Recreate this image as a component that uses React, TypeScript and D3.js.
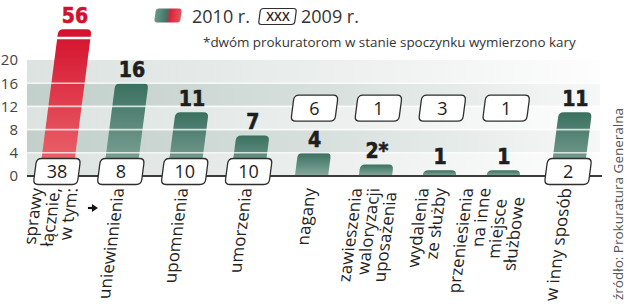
import React from "react";
import * as d3 from "d3";

// ---- data ----
const categoryLines: string[][] = [
  ["sprawy", "łącznie,", "w tym:"],
  ["uniewinnienia"],
  ["upomnienia"],
  ["umorzenia"],
  ["nagany"],
  ["zawieszenia", "waloryzacji", "uposażenia"],
  ["wydalenia", "ze służby"],
  ["przeniesienia", "na inne", "miejsce", "służbowe"],
  ["w inny sposób"],
];
const values2010 = [56, 16, 11, 7, 4, 2, 1, 1, 11];
const labels2010 = ["56", "16", "11", "7", "4", "2*", "1", "1", "11"];
const values2009 = [38, 8, 10, 10, 6, 1, 3, 1, 2];
const yTicks = [0, 4, 8, 12, 16, 20];
const legend2010 = "2010 r.";
const legend2009 = "2009 r.";
const legendBoxText = "XXX";
const footnote = "*dwóm prokuratorom w stanie spoczynku wymierzono kary";
const source = "źródło: Prokuratura Generalna";

// ---- layout (not data) ----
const W = 628;
const H = 307;
const BASE = 176;
const TOP = 60;
const SKEW_DEG = -7.4;
const SK = Math.tan((-SKEW_DEG * Math.PI) / 180);
const AXIS_MAX = 20;
const BREAK_TOP = 25.3; // display height of broken bar (axis units)
const BREAK_AT = 23.8;
const labelDx = [0, 0, 0, 0, 0, 0, -6, -8, 0];
const lineDy: Record<string, number> = { uposażenia: 4, miejsce: 11, służbowe: 9 };

const SANS = "'Open Sans', 'DejaVu Sans', sans-serif";
const NARROW = "'Liberation Sans Narrow', 'DejaVu Sans Condensed', sans-serif";

export default function App() {
  const idx = d3.range(categoryLines.length);
  const x = d3
    .scaleBand<number>()
    .domain(idx)
    .range([24, 599])
    .paddingInner(0.48)
    .paddingOuter(0.24);
  const y = d3.scaleLinear().domain([0, AXIS_MAX]).range([BASE, TOP]);
  const bw = x.bandwidth();
  const skewT = `translate(0,${BASE}) skewX(${SKEW_DEG}) translate(0,${-BASE})`;

  const bands = d3.range(0, AXIS_MAX, 4);
  const grid = yTicks.filter((t) => t > 0 && t < AXIS_MAX);

  const barPath = (x0: number, top: number, w: number, r: number) =>
    `M${x0},${BASE} L${x0},${top + r} Q${x0},${top} ${x0 + r},${top} L${x0 + w - r},${top} Q${x0 + w},${top} ${x0 + w},${top + r} L${x0 + w},${BASE} Z`;

  const roundRect = (w: number, h: number, r: number) =>
    `M${-w / 2 + r},${-h / 2} H${w / 2 - r} Q${w / 2},${-h / 2} ${w / 2},${-h / 2 + r} V${h / 2 - r} Q${w / 2},${h / 2} ${w / 2 - r},${h / 2} H${-w / 2 + r} Q${-w / 2},${h / 2} ${-w / 2},${h / 2 - r} V${-h / 2 + r} Q${-w / 2},${-h / 2} ${-w / 2 + r},${-h / 2} Z`;

  const lineH = 17.5;

  return (
    <svg
      width={W}
      height={H}
      viewBox={`0 0 ${W} ${H}`}
      style={{ position: "absolute", left: 0, top: 0, background: "#fff" }}
    >
      <defs>
        <linearGradient id="bandLight" x1="0" x2="1" y1="0" y2="0">
          <stop offset="0" stopColor="#dce3e0" />
          <stop offset="0.45" stopColor="#e9edec" />
          <stop offset="1" stopColor="#fdfdfd" />
        </linearGradient>
        <linearGradient id="bandDark" x1="0" x2="1" y1="0" y2="0">
          <stop offset="0" stopColor="#c2cfcb" />
          <stop offset="0.5" stopColor="#d6dfdc" />
          <stop offset="1" stopColor="#f6f8f7" />
        </linearGradient>
        <linearGradient id="green" x1="0" x2="0" y1="0" y2="1">
          <stop offset="0" stopColor="#3a705f" />
          <stop offset="1" stopColor="#86a99e" />
        </linearGradient>
        <linearGradient id="red" x1="0" x2="0" y1="0" y2="1">
          <stop offset="0" stopColor="#d4112c" />
          <stop offset="1" stopColor="#ec6b70" />
        </linearGradient>
        <linearGradient id="swatch" x1="0" x2="1" y1="0" y2="0">
          <stop offset="0" stopColor="#6f978b" />
          <stop offset="0.45" stopColor="#3e7464" />
          <stop offset="0.58" stopColor="#d8253c" />
          <stop offset="1" stopColor="#e5535d" />
        </linearGradient>
      </defs>

      {/* bands */}
      {bands.map((b, i) => (
        <rect
          key={b}
          x={27}
          y={y(b + 4)}
          width={573}
          height={y(b) - y(b + 4)}
          fill={i % 2 === 0 ? "url(#bandLight)" : "url(#bandDark)"}
        />
      ))}

      {/* bars */}
      <g transform={skewT}>
        {values2010.map((v, i) => {
          const disp = Math.min(v, BREAK_TOP);
          const top = y(disp);
          const x0 = x(i)!;
          return (
            <g key={i}>
              <path d={barPath(x0, top, bw, 5)} fill={v > AXIS_MAX ? "url(#red)" : "url(#green)"} />
              {v > AXIS_MAX && (
                <rect x={x0 - 1} y={y(BREAK_AT) - 1.3} width={bw + 2} height={2.6} fill="#fff" />
              )}
            </g>
          );
        })}
      </g>

      {/* grid lines */}
      {grid.map((t) => (
        <line
          key={t}
          x1={27}
          x2={600}
          y1={y(t)}
          y2={y(t)}
          stroke="#fff"
          strokeWidth={1.6}
          strokeOpacity={0.75}
        />
      ))}

      {/* axis line */}
      <line x1={27} x2={602} y1={BASE} y2={BASE} stroke="#3b3b3b" strokeWidth={2.2} />

      {/* y tick labels */}
      {yTicks.map((t) => (
        <text
          key={t}
          x={18}
          y={y(t)}
          dy="0.36em"
          textAnchor="end"
          fontFamily={SANS}
          fontSize={15}
          fill="#444"
        >
          {t}
        </text>
      ))}

      {/* 2010 value labels */}
      {values2010.map((v, i) => {
        const top = y(Math.min(v, BREAK_TOP));
        const cx = x(i)! + bw / 2 + (BASE - top) * SK;
        const isRed = v > AXIS_MAX;
        return (
          <text
            key={i}
            x={cx}
            y={top - 6}
            textAnchor="middle"
            fontFamily={NARROW}
            fontWeight="bold"
            fontSize={21}
            fill={isRed ? "#d4112c" : "#1e1e1e"}
            stroke={isRed ? "#d4112c" : "#1e1e1e"}
            strokeWidth={0.6}
          >
            {labels2010[i]}
          </text>
        );
      })}

      {/* 2009 boxes */}
      {values2009.map((v, i) => {
        const raised = values2010[i] < 5;
        const cx = x(i)! + bw / 2 + (raised ? 3 : 1);
        const cy = raised ? y(11.7) : 171.5;
        return (
          <g key={i}>
            <g transform={`translate(${cx},${cy}) skewX(${SKEW_DEG})`}>
              <path d={roundRect(44, 26, 5)} fill="#fff" stroke="#2e2e2e" strokeWidth={1.3} />
            </g>
            <text
              x={cx}
              y={cy}
              dy="0.36em"
              textAnchor="middle"
              fontFamily={SANS}
              fontSize={18}
              fill="#1e1e1e"
            >
              {v}
            </text>
          </g>
        );
      })}

      {/* category labels */}
      <g transform={skewT}>
        {categoryLines.map((lines, i) => {
          const cx = x(i)! + bw / 2 + labelDx[i];
          const n = lines.length;
          return (
            <g key={i}>
              {lines.map((ln, j) => {
                const bx = cx + (j - (n - 1) / 2) * lineH + 6;
                const ty = 188 + (lineDy[ln] || 0);
                return (
                  <text
                    key={j}
                    transform={`translate(${bx},${ty}) rotate(-90)`}
                    textAnchor="end"
                    fontFamily={SANS}
                    fontSize={17}
                    fill="#222"
                  >
                    {ln}
                  </text>
                );
              })}
            </g>
          );
        })}
      </g>

      {/* arrow after first label */}
      {(() => {
        const ax = x(0)! + bw / 2 + 32;
        const ay = 208;
        return (
          <g>
            <line x1={ax} x2={ax + 6} y1={ay} y2={ay} stroke="#111" strokeWidth={2.2} />
            <path d={`M${ax + 4},${ay - 4} L${ax + 10},${ay} L${ax + 4},${ay + 4} Z`} fill="#111" />
          </g>
        );
      })()}

      {/* legend */}
      <g transform={`translate(168,15.5) skewX(${SKEW_DEG})`}>
        <path d={roundRect(26, 14, 3)} fill="url(#swatch)" />
      </g>
      <text x={192} y={23} fontFamily={SANS} fontSize={18} fill="#333">
        {legend2010}
      </text>
      <g transform={`translate(277.5,16.5) skewX(${SKEW_DEG})`}>
        <path d={roundRect(36, 16, 3)} fill="#fff" stroke="#2e2e2e" strokeWidth={1.2} />
      </g>
      <text
        x={278}
        y={16.5}
        dy="0.36em"
        textAnchor="middle"
        fontFamily={SANS}
        fontWeight={600}
        fontSize={12.5}
        fill="#222"
      >
        {legendBoxText}
      </text>
      <text x={301} y={23} fontFamily={SANS} fontSize={18} fill="#333">
        {legend2009}
      </text>

      {/* footnote */}
      <text x={203} y={47} fontFamily={SANS} fontSize={13.4} fill="#333">
        {footnote}
      </text>

      {/* source */}
      <text
        transform="translate(623,300) rotate(-90)"
        fontFamily={SANS}
        fontSize={13.5}
        fill="#555"
      >
        {source}
      </text>
    </svg>
  );
}
